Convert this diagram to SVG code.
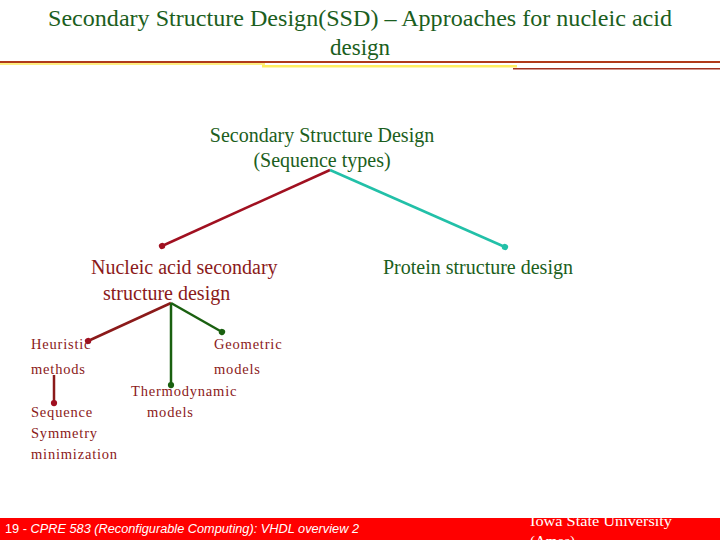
<svg xmlns="http://www.w3.org/2000/svg" width="720" height="540" viewBox="0 0 720 540">
<defs>
<style>
.t{font-family:"Liberation Serif","Times New Roman",serif;}
.g{fill:#1b5e20;}
.r{fill:#8b1a1a;}
.m{font-size:20px;}
.s{font-size:14.5px;letter-spacing:0.8px;}
.f{font-family:"Liberation Sans",Arial,sans-serif;fill:#fff;font-size:12px;}
.c{fill:none;stroke-width:2.5;}
</style>
<marker id="ar" viewBox="0 0 6 6" refX="3" refY="3" markerWidth="3" markerHeight="3" orient="auto"><circle cx="3" cy="3" r="2.5" fill="#a01020"/></marker>
<marker id="at" viewBox="0 0 6 6" refX="3" refY="3" markerWidth="3" markerHeight="3" orient="auto"><circle cx="3" cy="3" r="2.5" fill="#22c0a8"/></marker>
<marker id="ag" viewBox="0 0 6 6" refX="3" refY="3" markerWidth="3" markerHeight="3" orient="auto"><circle cx="3" cy="3" r="2.5" fill="#1a6010"/></marker>
</defs>
<rect width="720" height="540" fill="#fff"/>
<g id="title">
<text class="t g" x="360" y="26" font-size="23" text-anchor="middle" textLength="624" lengthAdjust="spacingAndGlyphs">Secondary Structure Design(SSD) – Approaches for nucleic acid</text>
<text class="t g" x="360" y="55" font-size="23" text-anchor="middle">design</text>
<rect x="0" y="61" width="720" height="2" fill="#b03a1a"/>
<rect x="0" y="63" width="265" height="2" fill="#ffee80"/>
<rect x="262" y="65" width="255" height="2.5" fill="#ffee60"/>
<rect x="513" y="68" width="207" height="1.5" fill="#a03020"/>
</g>
<g id="connectors">
<line class="c" x1="330" y1="170" x2="162" y2="246" stroke="#a01020" marker-end="url(#ar)"/>
<line class="c" x1="330" y1="170" x2="505" y2="247" stroke="#22c0a8" marker-end="url(#at)"/>
<line class="c" x1="171" y1="303" x2="88" y2="341" stroke="#8b1a1a" marker-end="url(#ar)"/>
<line class="c" x1="171" y1="303" x2="222" y2="332" stroke="#1a6010" marker-end="url(#ag)"/>
<line class="c" x1="171" y1="303" x2="171" y2="385" stroke="#1a6010" marker-end="url(#ag)"/>
<line class="c" x1="54" y1="375" x2="54" y2="403" stroke="#8b1a1a" marker-end="url(#ar)"/>
</g>
<g id="root">
<text class="t g m" x="322" y="142" text-anchor="middle">Secondary Structure Design</text>
<text class="t g m" x="322" y="167" text-anchor="middle">(Sequence types)</text>
</g>
<g id="nucleic">
<text class="t r m" x="91" y="274">Nucleic acid secondary</text>
<text class="t r m" x="103" y="300">structure design</text>
</g>
<g id="protein">
<text class="t g m" x="383" y="274">Protein structure design</text>
</g>
<g id="heuristic">
<text class="t r s" x="31" y="349">Heuristic</text>
<text class="t r s" x="31" y="374">methods</text>
</g>
<g id="geometric">
<text class="t r s" x="214" y="349">Geometric</text>
<text class="t r s" x="214" y="374">models</text>
</g>
<g id="thermo">
<text class="t r s" x="131" y="396">Thermodynamic</text>
<text class="t r s" x="147" y="417">models</text>
</g>
<g id="sequence">
<text class="t r s" x="31" y="417">Sequence</text>
<text class="t r s" x="31" y="438">Symmetry</text>
<text class="t r s" x="31" y="459">minimization</text>
</g>
<g id="footer">
<rect x="0" y="518" width="720" height="22" fill="#ff0000"/>
<text class="f" x="5" y="533" textLength="354" lengthAdjust="spacingAndGlyphs">19 - <tspan font-style="italic">CPRE 583 (Reconfigurable Computing):  VHDL overview 2</tspan></text>
<text class="t" x="530" y="526" font-size="15" fill="#fff" textLength="142" lengthAdjust="spacingAndGlyphs">Iowa State University</text>
<text class="t" x="530" y="546" font-size="15" fill="#fff">(Ames)</text>
</g>
</svg>
